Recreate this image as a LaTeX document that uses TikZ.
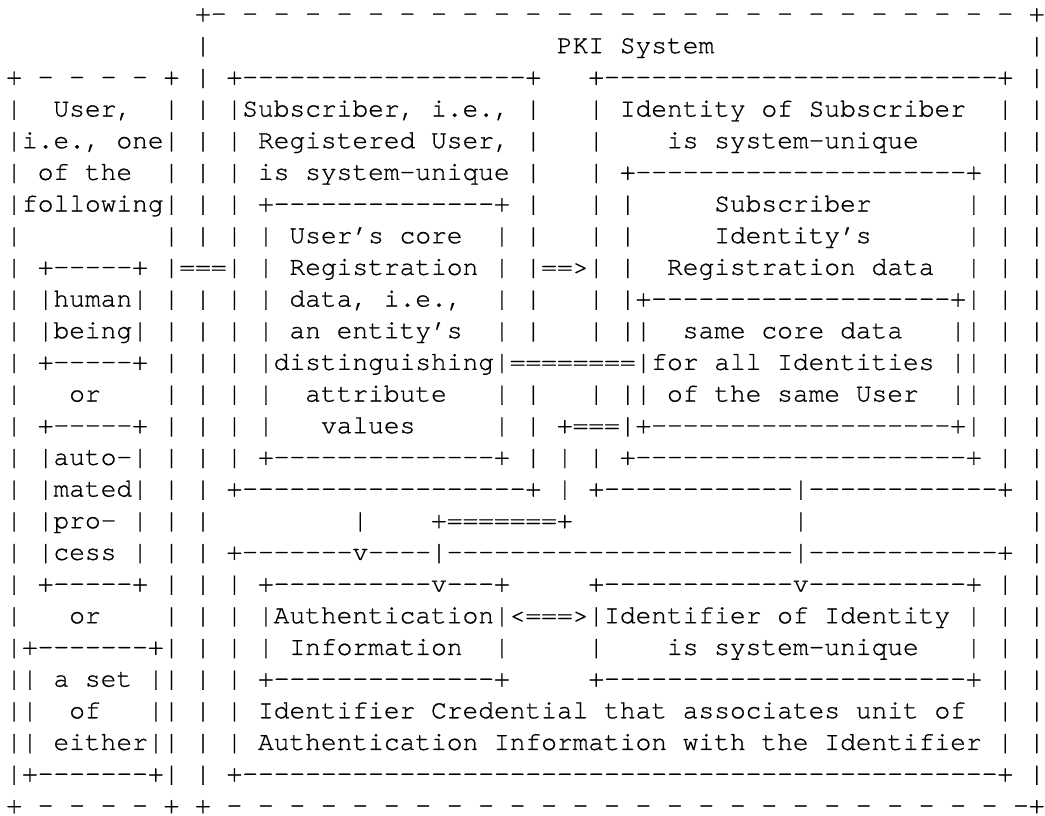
\documentclass[tikz,border=0pt]{standalone}
\usepackage{fontspec}
\newfontfamily\asciifont{texgyrecursor-regular.otf}[Ligatures={TeXOff,CommonOff},FakeBold=0.8]

\begin{document}
\begin{tikzpicture}[x=1pt,y=1pt,
	asciirow/.style={anchor=base west,inner sep=0pt,
		font=\asciifont\fontsize{26.22pt}{31.67pt}\selectfont}]
	\useasboundingbox (0,0) rectangle (1045,-815);
	\node[asciirow] (row01) at (6.13,-21.5) {~~~~~~~~~~~~+-~-~-~-~-~-~-~-~-~-~-~-~-~-~-~-~-~-~-~-~-~-~-~-~-~-~+};
	\node[asciirow] (row02) at ([yshift=-31.67pt]row01.base west) {~~~~~~~~~~~~|~~~~~~~~~~~~~~~~~~~~~~PKI~System~~~~~~~~~~~~~~~~~~~~|};
	\node[asciirow] (row03) at ([yshift=-31.67pt]row02.base west) {+~-~-~-~-~+~|~+------------------+~~~+-------------------------+~|};
	\node[asciirow] (row04) at ([yshift=-31.67pt]row03.base west) {|~~User,~~|~|~|Subscriber,~i.e.,~|~~~|~Identity~of~Subscriber~~|~|};
	\node[asciirow] (row05) at ([yshift=-31.67pt]row04.base west) {|i.e.,~one|~|~|~Registered~User,~|~~~|~~~~is~system-unique~~~~~|~|};
	\node[asciirow] (row06) at ([yshift=-31.67pt]row05.base west) {|~of~the~~|~|~|~is~system-unique~|~~~|~+---------------------+~|~|};
	\node[asciirow] (row07) at ([yshift=-31.67pt]row06.base west) {|following|~|~|~+--------------+~|~~~|~|~~~~~Subscriber~~~~~~|~|~|};
	\node[asciirow] (row08) at ([yshift=-31.67pt]row07.base west) {|~~~~~~~~~|~|~|~|~User’s~core~~|~|~~~|~|~~~~~Identity’s~~~~~~|~|~|};
	\node[asciirow] (row09) at ([yshift=-31.67pt]row08.base west) {|~+-----+~|===|~|~Registration~|~|==>|~|~~Registration~data~~|~|~|};
	\node[asciirow] (row10) at ([yshift=-31.67pt]row09.base west) {|~|human|~|~|~|~|~data,~i.e.,~~|~|~~~|~|+-------------------+|~|~|};
	\node[asciirow] (row11) at ([yshift=-31.67pt]row10.base west) {|~|being|~|~|~|~|~an~entity’s~~|~|~~~|~||~~same~core~data~~~||~|~|};
	\node[asciirow] (row12) at ([yshift=-31.67pt]row11.base west) {|~+-----+~|~|~|~|distinguishing|========|for~all~Identities~||~|~|};
	\node[asciirow] (row13) at ([yshift=-31.67pt]row12.base west) {|~~~or~~~~|~|~|~|~~attribute~~~|~|~~~|~||~of~the~same~User~~||~|~|};
	\node[asciirow] (row14) at ([yshift=-31.67pt]row13.base west) {|~+-----+~|~|~|~|~~~values~~~~~|~|~+===|+-------------------+|~|~|};
	\node[asciirow] (row15) at ([yshift=-31.67pt]row14.base west) {|~|auto-|~|~|~|~+--------------+~|~|~|~+---------------------+~|~|};
	\node[asciirow] (row16) at ([yshift=-31.67pt]row15.base west) {|~|mated|~|~|~+------------------+~|~+------------|------------+~|};
	\node[asciirow] (row17) at ([yshift=-31.67pt]row16.base west) {|~|pro-~|~|~|~~~~~~~~~|~~~~+=======+~~~~~~~~~~~~~~|~~~~~~~~~~~~~~|};
	\node[asciirow] (row18) at ([yshift=-31.67pt]row17.base west) {|~|cess~|~|~|~+-------v----|----------------------|------------+~|};
	\node[asciirow] (row19) at ([yshift=-31.67pt]row18.base west) {|~+-----+~|~|~|~+----------v---+~~~~~+------------v----------+~|~|};
	\node[asciirow] (row20) at ([yshift=-31.67pt]row19.base west) {|~~~or~~~~|~|~|~|Authentication|<===>|Identifier~of~Identity~|~|~|};
	\node[asciirow] (row21) at ([yshift=-31.67pt]row20.base west) {|+-------+|~|~|~|~Information~~|~~~~~|~~~~is~system-unique~~~|~|~|};
	\node[asciirow] (row22) at ([yshift=-31.67pt]row21.base west) {||~a~set~||~|~|~+--------------+~~~~~+-----------------------+~|~|};
	\node[asciirow] (row23) at ([yshift=-31.67pt]row22.base west) {||~~of~~~||~|~|~Identifier~Credential~that~associates~unit~of~~|~|};
	\node[asciirow] (row24) at ([yshift=-31.67pt]row23.base west) {||~either||~|~|~Authentication~Information~with~the~Identifier~|~|};
	\node[asciirow] (row25) at ([yshift=-31.67pt]row24.base west) {|+-------+|~|~+------------------------------------------------+~|};
	\node[asciirow] (row26) at ([yshift=-31.67pt]row25.base west) {+~-~-~-~-~+~+~-~-~-~-~-~-~-~-~-~-~-~-~-~-~-~-~-~-~-~-~-~-~-~-~-~-+};
\end{tikzpicture}
\end{document}
